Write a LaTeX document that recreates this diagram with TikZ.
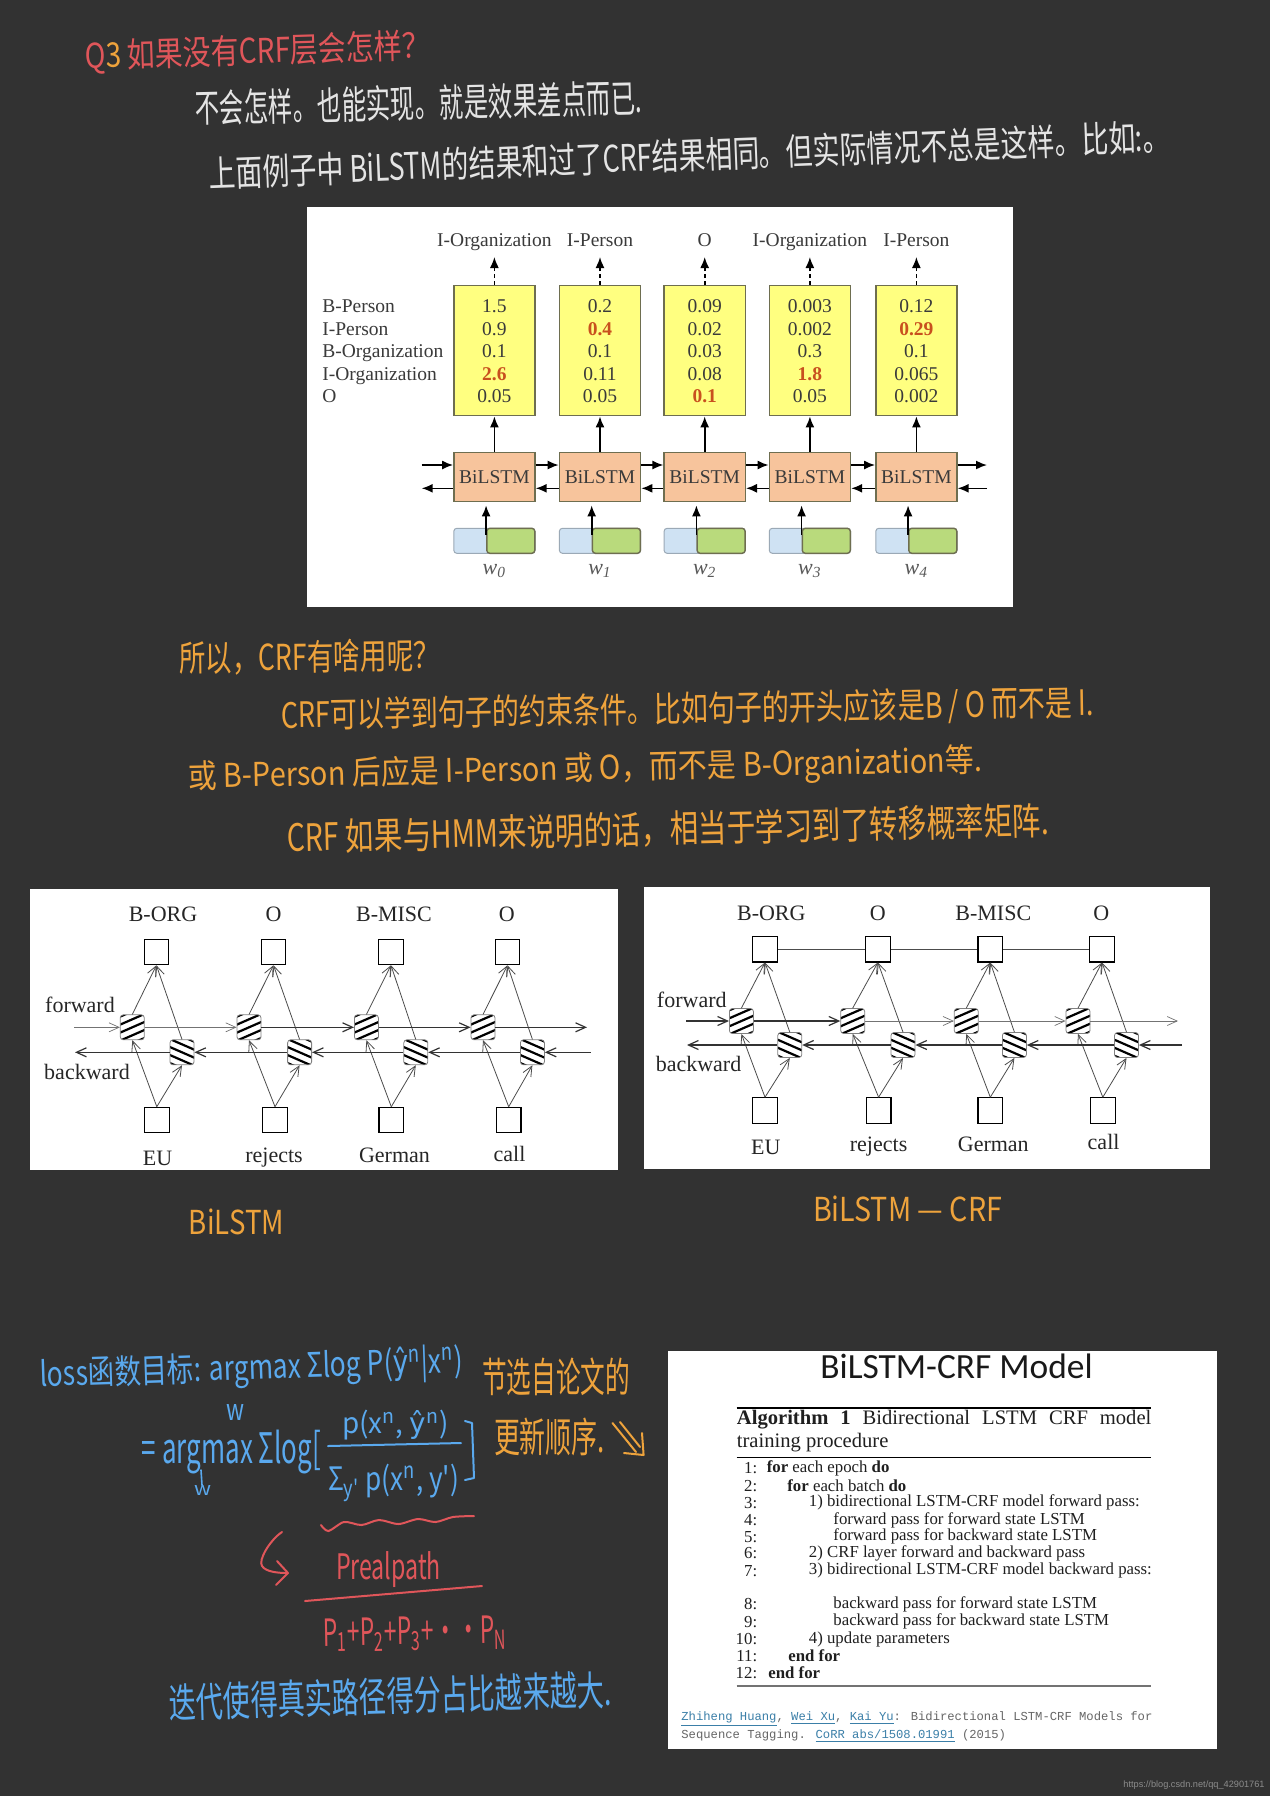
\documentclass[tikz,border=0pt]{standalone}
\usepackage{fontspec}
\usetikzlibrary{arrows.meta}
\setmainfont{Liberation Serif}
\newfontfamily\cjkhand{Noto Sans CJK SC}
\newfontfamily\monotxt{Liberation Mono}
\newfontfamily\titletxt{Carlito}
\newfontfamily\marktxt{Liberation Sans}
\newfontfamily\hatfont{DejaVu Sans}
\definecolor{bgdark}{HTML}{323232}
\definecolor{handred}{HTML}{E0565A}
\definecolor{handorange}{HTML}{EEA33C}
\definecolor{handblue}{HTML}{5AA9EE}
\definecolor{handwhite}{HTML}{E4E4E4}
\definecolor{yellowbox}{HTML}{FFFF80}
\definecolor{orangebox}{HTML}{F7C49C}
\definecolor{bluebox}{HTML}{CFE2F3}
\definecolor{greenbox}{HTML}{B9DA7C}
\definecolor{boxedge}{HTML}{6E6E50}
\definecolor{hotval}{HTML}{C8501E}
\definecolor{inktxt}{HTML}{3A3A3A}
\definecolor{linkblue}{HTML}{3B7FA8}
\definecolor{monogrey}{HTML}{666666}
\tikzset{
  handtext/.style={inner sep=0pt,font=\fontsize{10pt}{12pt}\cjkhand},
  whitepanel/.style={fill=white,draw=none},
  txtA/.style={inner sep=0pt,text height=6.8pt,text depth=2.2pt,text=inktxt,font=\fontsize{9.75pt}{11pt}\selectfont},
  yellowcell/.style={draw=boxedge,line width=.7pt,fill=yellowbox,minimum width=40.6pt,minimum height=65pt,inner sep=0pt},
  orangecell/.style={draw=boxedge,line width=.7pt,fill=orangebox,minimum width=40.6pt,minimum height=24.7pt,inner sep=0pt,text=inktxt,font=\fontsize{9.75pt}{11pt}\selectfont},
  bluecell/.style={draw=bluebox!75!black,line width=.5pt,fill=bluebox,rounded corners=1.5pt,minimum width=40.6pt,minimum height=12.5pt,inner sep=0pt},
  greencell/.style={draw=boxedge,line width=.7pt,fill=greenbox,rounded corners=1.5pt,minimum width=24pt,minimum height=12.5pt,inner sep=0pt},
  solidarrow/.style={line width=.8pt,-{Latex[length=5.5pt,width=4.5pt]}},
  dasharrow/.style={line width=.8pt,dash pattern=on 2pt off 1.5pt,-{Latex[length=5.5pt,width=4.5pt]}},
  square/.style={draw=black,line width=.6pt,minimum width=12.3pt,minimum height=12.7pt,inner sep=0pt},
  txtB/.style={inner sep=0pt,text height=7.5pt,text depth=2.5pt,text=black!85,font=\fontsize{11pt}{12pt}\selectfont},
  thinflow/.style={line width=.35pt,draw=black!55,-{Straight Barb[length=5pt,width=4.5pt]}},
  thickflow/.style={line width=.6pt,draw=black!80,-{Straight Barb[length=5pt,width=4.5pt]}},
  diagflow/.style={line width=.4pt,draw=black!70,-{Straight Barb[length=5pt,width=4.5pt]}},
  fwdcell/.style={draw=black!50,line width=.4pt,rounded corners=1.5pt,minimum width=12pt,minimum height=12.5pt,inner sep=0pt,fill=white,
    path picture={\foreach \k in {-2,...,2}{\draw[draw=black,line width=1.1pt] ([shift={(-8pt,\k*4pt-3.5pt)}]path picture bounding box.center) -- ++(16pt,7pt);}}},
  bwdcell/.style={draw=black!50,line width=.4pt,rounded corners=1.5pt,minimum width=12pt,minimum height=12.5pt,inner sep=0pt,fill=white,
    path picture={\foreach \k in {-2,...,2}{\draw[draw=black,line width=1.1pt] ([shift={(-8pt,\k*4pt+3.5pt)}]path picture bounding box.center) -- ++(16pt,-7pt);}}},
  algtxt/.style={inner sep=0pt,text=black!88,font=\fontsize{8.4pt}{10pt}\selectfont},
  captxt/.style={inner sep=0pt,text=black!88,font=\fontsize{10.3pt}{12pt}\selectfont},
  citetxt/.style={inner sep=0pt,text=monogrey,font=\fontsize{6.1pt}{8pt}\monotxt},
  algrule/.style={draw=black,line width=.5pt},
}
\newcommand{\hand}[8]{%
  \pgfmathsetlengthmacro\handw{(#4-#3)*0.5pt}%
  \pgfmathsetlengthmacro\handh{#7*0.5pt}%
  \pgfmathsetmacro\handx{(#3+#4)/2}%
  \node[handtext,text=#2,rotate=#6] (#1) at (\handx,#5) {\resizebox*{\handw}{\handh}{#8}};}
\newcommand{\hotnum}[1]{\textcolor{hotval}{\textbf{#1}}}
\newcommand{\lnk}[1]{\textcolor{linkblue}{\underline{#1}}}
\newcommand{\yhat}{{\hatfont ŷ}}
\begin{document}
\begin{tikzpicture}[x=.5pt,y=-.5pt]
\useasboundingbox (0,0) rectangle (1270,1796);
\fill[bgdark] (0,0) rectangle (1270,1796);

% handwriting, top
\hand{hQ}{handred}{85}{430}{52}{1.7}{35}{Q\textcolor{handorange}{3} 如果没有CRF层会怎样？}
\hand{hA}{handwhite}{195}{642}{103}{1.3}{36}{不会怎样。也能实现。就是效果差点而已.}
\hand{hB}{handwhite}{209}{1170}{155}{2.2}{34}{上面例子中 BiLSTM的结果和过了CRF结果相同。但实际情况不总是这样。比如:。}

% figure 1
\fill[whitepanel] (307,207) rectangle (1013,607);
\foreach \i/\cx/\lab/\va/\vb/\vc/\vd/\ve in {
  0/494.4/I-Organization/1.5/0.9/0.1/\hotnum{2.6}/0.05,
  1/600/I-Person/0.2/\hotnum{0.4}/0.1/0.11/0.05,
  2/704.7/O/0.09/0.02/0.03/0.08/\hotnum{0.1},
  3/809.9/I-Organization/0.003/0.002/0.3/\hotnum{1.8}/0.05,
  4/916.4/I-Person/0.12/\hotnum{0.29}/0.1/0.065/0.002}{
  \node[yellowcell] (y\i) at (\cx,350.7) {};
  \node[orangecell] (o\i) at (\cx,477) {BiLSTM};
  \node[bluecell] (u\i) at (\cx,540.8) {};
  \node[greencell,anchor=east] (g\i) at (u\i.east) {};
  \node[txtA] (lab\i) at (\cx,241.4) {\lab};
  \coordinate (tip\i) at (\cx,257);
  \node[txtA] (va\i) at (\cx,308) {\va};
  \node[txtA] (vb\i) at (\cx,330.4) {\vb};
  \node[txtA] (vc\i) at (\cx,353) {\vc};
  \node[txtA] (vd\i) at (\cx,375.7) {\vd};
  \node[txtA] (ve\i) at (\cx,398) {\ve};
  \node[txtA,font=\fontsize{11pt}{12pt}\itshape,text=black!65] (w\i) at (\cx,569.7) {w\textsubscript{\i}};
  \draw[dasharrow] (y\i.north) -- (tip\i);
  \draw[solidarrow] (o\i.north) -- (y\i.south);
  \draw[solidarrow,shorten >=1.5pt] ([yshift=-3.5pt]g\i.north west) -- (g\i.north west |- o\i.south);
}
\node[txtA,anchor=west] (rowa) at (322,308) {B-Person};
\node[txtA,anchor=west] (rowb) at (322,330.4) {I-Person};
\node[txtA,anchor=west] (rowc) at (322,353) {B-Organization};
\node[txtA,anchor=west] (rowd) at (322,375.7) {I-Organization};
\node[txtA,anchor=west] (rowe) at (322,398) {O};
\coordinate (inF) at (421.7,465);
\coordinate (outF) at (987,465);
\coordinate (outB) at (421.7,488.3);
\coordinate (inB) at (987,488.3);
\draw[solidarrow] (inF) -- ([yshift=6pt]o0.west);
\draw[solidarrow] ([yshift=6pt]o4.east) -- (outF);
\draw[solidarrow] (inB) -- ([yshift=-5.65pt]o4.east);
\draw[solidarrow] ([yshift=-5.65pt]o0.west) -- (outB);
\foreach \a/\b in {0/1,1/2,2/3,3/4}{
  \draw[solidarrow] ([yshift=6pt]o\a.east) -- ([yshift=6pt]o\b.west);
  \draw[solidarrow] ([yshift=-5.65pt]o\b.west) -- ([yshift=-5.65pt]o\a.east);
}

% handwriting, middle
\hand{hC}{handorange}{179}{440}{657}{0.7}{34}{所以，CRF有啥用呢？}
\hand{hD}{handorange}{281}{1094}{710}{0.9}{36}{CRF可以学到句子的约束条件。比如句子的开头应该是B / O 而不是 I.}
\hand{hE}{handorange}{188}{982}{770}{1.2}{36}{或 B-Person 后应是 I-Person 或 O，而不是 B-Organization等.}
\hand{hF}{handorange}{287}{1049}{829}{1.3}{36}{CRF 如果与HMM来说明的话，相当于学习到了转移概率矩阵.}

% figure 2, BiLSTM
\fill[whitepanel] (30,889.3) rectangle (618,1170);
\foreach \i/\tx/\sx/\fx/\bx/\tlx/\slx/\sly/\tl/\sl in {
  1/156.4/156.8/132.3/182/163/157.6/1160.7/B-ORG/EU,
  2/273.5/275/249/299.6/273.5/274/1157.7/O/rejects,
  3/391/391.3/366.4/415.8/394/394.5/1157.7/B-MISC/German,
  4/507.5/508.7/483/532.4/506.7/509.5/1156.7/O/call}{
  \node[square] (pt\i) at (\tx,952) {};
  \node[square] (ps\i) at (\sx,1120) {};
  \node[fwdcell] (pf\i) at (\fx,1027.3) {};
  \node[bwdcell] (pb\i) at (\bx,1052.3) {};
  \node[txtB] (ptl\i) at (\tlx,916.7) {\tl};
  \node[txtB] (psl\i) at (\slx,\sly) {\sl};
  \draw[diagflow] (pf\i.north) -- (pt\i.south);
  \draw[diagflow] (pb\i.north) -- (pt\i.south);
  \draw[diagflow] (ps\i.north) -- (pf\i.south);
  \draw[diagflow] (ps\i.north) -- (pb\i.south);
}
\node[txtB] (pfw) at (80,1007.7) {forward};
\node[txtB] (pbw) at (87,1074.3) {backward};
\coordinate (pinF) at (74,1027.3);
\coordinate (poutF) at (587,1027.3);
\coordinate (pinB) at (590.6,1052.3);
\coordinate (poutB) at (75,1052.3);
\draw[thinflow] (pinF) -- (pf1.west);
\draw[thinflow] (pf1.east) -- (pf2.west);
\draw[thickflow] (pf2.east) -- (pf3.west);
\draw[thickflow] (pf3.east) -- (pf4.west);
\draw[thickflow] (pf4.east) -- (poutF);
\draw[thickflow] (pinB) -- (pb4.east);
\draw[thickflow] (pb4.west) -- (pb3.east);
\draw[thickflow] (pb3.west) -- (pb2.east);
\draw[thickflow] (pb2.west) -- (pb1.east);
\draw[thickflow] (pb1.west) -- (poutB);

% figure 3, BiLSTM-CRF
\fill[whitepanel] (644.4,887.3) rectangle (1209.7,1168.7);
\foreach \i/\tx/\sx/\fx/\bx/\tlx/\slx/\sly/\tl/\sl in {
  1/765/765/741.4/789.8/771.3/765.8/1149/B-ORG/EU,
  2/877.9/878.6/852.7/903/877.9/878.6/1146.7/O/rejects,
  3/990.3/990.3/966.3/1014.4/993.3/993.3/1146.7/B-MISC/German,
  4/1102/1102.8/1078/1126.5/1101.3/1103.6/1144.3/O/call}{
  \node[square] (qt\i) at (\tx,949.2) {};
  \node[square] (qs\i) at (\sx,1110.5) {};
  \node[fwdcell] (qf\i) at (\fx,1021) {};
  \node[bwdcell] (qb\i) at (\bx,1045) {};
  \node[txtB] (qtl\i) at (\tlx,915.7) {\tl};
  \node[txtB] (qsl\i) at (\slx,\sly) {\sl};
  \draw[diagflow] (qf\i.north) -- (qt\i.south);
  \draw[diagflow] (qb\i.north) -- (qt\i.south);
  \draw[diagflow] (qs\i.north) -- (qf\i.south);
  \draw[diagflow] (qs\i.north) -- (qb\i.south);
}
\draw[line width=.5pt,draw=black!70] (qt1.east) -- (qt2.west);
\draw[line width=.5pt,draw=black!70] (qt2.east) -- (qt3.west);
\draw[line width=.5pt,draw=black!70] (qt3.east) -- (qt4.west);
\node[txtB] (qfw) at (691.8,1002.3) {forward};
\node[txtB] (qbw) at (698.5,1066) {backward};
\coordinate (qinF) at (686,1021);
\coordinate (qoutF) at (1178,1021);
\coordinate (qinB) at (1182,1045);
\coordinate (qoutB) at (687,1045);
\draw[thickflow] (qinF) -- (qf1.west);
\draw[thickflow] (qf1.east) -- (qf2.west);
\draw[thinflow] (qf2.east) -- (qf3.west);
\draw[thinflow] (qf3.east) -- (qf4.west);
\draw[thinflow] (qf4.east) -- (qoutF);
\draw[thickflow] (qinB) -- (qb4.east);
\draw[thickflow] (qb4.west) -- (qb3.east);
\draw[thickflow] (qb3.west) -- (qb2.east);
\draw[thickflow] (qb2.west) -- (qb1.east);
\draw[thickflow] (qb1.west) -- (qoutB);

\hand{hG}{handorange}{189}{284}{1222}{0}{26}{BiLSTM}
\hand{hH}{handorange}{813}{1002}{1209}{0}{26}{BiLSTM — CRF}

% formula
\hand{hI}{handblue}{40}{463}{1370}{1.9}{38}{loss函数目标: argmax Σlog P(\yhat\textsuperscript{n}|x\textsuperscript{n})}
\hand{hJ}{handblue}{226}{244}{1412}{0}{16}{w}
\hand{hK}{handblue}{142}{321}{1452}{0}{44}{= argmax Σlog[}
\hand{hL}{handblue}{342}{449}{1425}{0}{30}{p(x\textsuperscript{n}, \yhat\textsuperscript{n})}
\hand{hM}{handblue}{328}{459}{1483}{0}{38}{Σ\textsubscript{y'} p(x\textsuperscript{n}, y')}
\hand{hN}{handblue}{194}{211}{1490}{0}{10}{w}
\draw[handblue,line width=1pt,line cap=round] (328,1446) -- (461,1443);
\draw[handblue,line width=1pt,line cap=round,line join=round] (465,1421) -- (472,1423) -- (474,1478) -- (465,1480);
\draw[handblue,line width=.8pt,line cap=round] (201,1470) -- (202,1485);
\draw[handred,line width=1pt,line cap=round] plot[smooth] coordinates {(321,1525) (328.5,1531) (344,1522) (361.6,1525) (379,1520) (398.5,1524) (418,1519) (435.5,1522) (453,1517) (474,1516)};
\draw[handred,line width=1pt,line cap=round,line join=round] (282,1532) .. controls (270,1540) and (258,1560) .. (262,1566) .. controls (266,1572) and (278,1573) .. (288,1573);
\draw[handred,line width=1pt,line cap=round,line join=round] (277,1561) -- (288,1573) -- (276,1585);
\hand{hO}{handred}{336}{441}{1570}{0}{36}{Prealpath}
\draw[handred,line width=1pt,line cap=round] (305,1601) -- (482,1586);
\hand{hP}{handred}{323}{507}{1634}{1}{34}{P\textsubscript{1}+P\textsubscript{2}+P\textsubscript{3}+··P\textsubscript{N}}
\hand{hQb}{handblue}{169}{612}{1696}{1.7}{38}{迭代使得真实路径得分占比越来越大.}
\hand{hR}{handorange}{482}{630}{1377}{0}{38}{节选自论文的}
\hand{hS}{handorange}{494}{605}{1437}{0}{38}{更新顺序.}
\draw[handorange,line width=1pt,line cap=round] (612.5,1423) -- (636,1452);
\draw[handorange,line width=1pt,line cap=round] (620,1422) -- (640,1447);
\draw[handorange,line width=1pt,line cap=round,line join=round] (624,1453) -- (643.6,1455) -- (642,1433);

% figure 4
\fill[whitepanel] (667.6,1351) rectangle (1216.8,1748.7);
\node[inner sep=0pt,text=black!90,font=\fontsize{17.7pt}{20pt}\titletxt] (title) at (956.6,1366) {BiLSTM-CRF Model};
\coordinate (rl1) at (736.5,1407.7); \coordinate (rr1) at (1151,1407.7);
\coordinate (rl2) at (736.5,1457.7); \coordinate (rr2) at (1151,1457.7);
\coordinate (rl3) at (736.5,1686);   \coordinate (rr3) at (1151,1686);
\draw[algrule,line width=.9pt] (rl1) -- (rr1);
\draw[algrule] (rl2) -- (rr2);
\draw[algrule,draw=black!55,line width=.9pt] (rl3) -- (rr3);
\node[captxt,anchor=west] (capa) at (736.5,1420) {\makebox[207.25pt][s]{\textbf{Algorithm 1} Bidirectional LSTM CRF model}};
\node[captxt,anchor=west] (capb) at (736.5,1442.7) {training procedure};
\foreach \n/\yy/\xx/\tt in {
  1/1468.3/766.4/{\textbf{for} each epoch \textbf{do}},
  2/1486/787/{\textbf{for} each batch \textbf{do}},
  3/1502.7/808.5/{1) bidirectional LSTM-CRF model forward pass:},
  4/1520/833/{forward pass for forward state LSTM},
  5/1536.7/833/{forward pass for backward state LSTM},
  6/1553.3/808.5/{2) CRF layer forward and backward pass},
  7/1570.7/808.5/{3) bidirectional LSTM-CRF model backward pass:},
  8/1604.3/833/{backward pass for forward state LSTM},
  9/1621.7/833/{backward pass for backward state LSTM},
  10/1639/808.5/{4) update parameters},
  11/1655.7/788/{\textbf{end for}},
  12/1672.7/768/{\textbf{end for}}}{
  \node[algtxt,anchor=east] (an\n) at (757.6,\yy) {\n:};
  \node[algtxt,anchor=west] (at\n) at (\xx,\yy) {\tt};
}
\node[citetxt,anchor=west] (cita) at (681,1719.3) {\lnk{Zhiheng Huang}, \lnk{Wei Xu}, \lnk{Kai Yu}: Bidirectional LSTM-CRF Models for};
\node[citetxt,anchor=west] (citb) at (681,1736) {Sequence Tagging. \lnk{CoRR abs/1508.01991} (2015)};

\node[inner sep=0pt,anchor=east,text=black!45!white,font=\fontsize{4.6pt}{6pt}\marktxt] (mark) at (1265,1785) {https://blog.csdn.net/qq\_42901761};
\end{tikzpicture}
\end{document}
